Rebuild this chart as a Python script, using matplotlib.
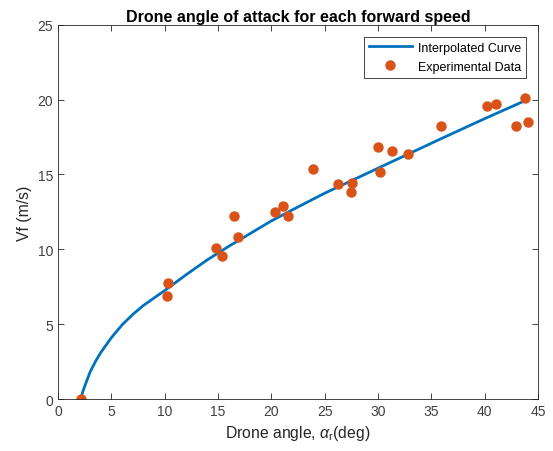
import matplotlib
matplotlib.use("Agg")
import matplotlib.pyplot as plt
import numpy as np

plt.rcParams['font.family'] = ['Liberation Sans', 'DejaVu Sans']
plt.rcParams['mathtext.fontset'] = 'custom'
plt.rcParams['mathtext.rm'] = 'Liberation Sans'
plt.rcParams['mathtext.it'] = 'Liberation Sans:italic'

alpha_exp = [2.15, 10.3, 10.25, 14.8, 15.4, 16.45, 16.85, 20.3, 21.05, 21.6, 23.9,
             26.2, 27.6, 27.45, 30.0, 30.15, 31.3, 32.85, 35.9, 40.2, 41.1, 42.9,
             43.8, 44.1]
vf_exp = [0.0, 7.75, 6.88, 10.12, 9.53, 12.2, 10.85, 12.48, 12.87, 12.2, 15.37,
          14.33, 14.4, 13.8, 16.85, 15.15, 16.55, 16.37, 18.22, 19.56, 19.69, 18.22,
          20.13, 18.53]

# interpolated curve
alpha_fit = [2.15, 2.3, 2.6, 3.0, 3.5, 4.0, 5.0, 6.0, 7.0, 8.0, 9.5, 10.0, 12.0,
             14.0, 16.0, 18.0, 20.0, 22.0, 25.0, 28.0, 30.0, 33.0, 36.0, 40.0, 44.0]
vf_fit = [0.0, 0.45, 1.05, 1.8, 2.5, 3.1, 4.1, 4.95, 5.65, 6.25, 7.0, 7.25, 8.3,
          9.3, 10.2, 11.05, 11.9, 12.65, 13.75, 14.75, 15.42, 16.42, 17.42, 18.73, 20.0]

fig = plt.figure(figsize=(5.53, 4.52), dpi=100)
ax = fig.add_axes([0.105, 0.115, 0.868, 0.828])

ax.plot(alpha_fit, vf_fit, color='#0072BD', lw=2, label='Interpolated Curve',
        solid_joinstyle='round')
ax.plot(alpha_exp, vf_exp, 'o', color='#D95319', ms=6.5, mec='#D95319',
        label='Experimental Data')

ax.set_xlim(0, 45)
ax.set_ylim(0, 25)
ax.set_xticks(np.arange(0, 46, 5))
ax.set_yticks(np.arange(0, 26, 5))
ax.tick_params(direction='in', top=True, right=True, length=4, width=0.6,
               labelsize=10, colors='#262626', labelcolor='#404040')
for s in ax.spines.values():
    s.set_color('#262626')
    s.set_linewidth(0.6)

ax.set_title('Drone angle of attack for each forward speed', fontsize=11.5,
             fontweight='bold', pad=3)
ax.set_xlabel(r'Drone angle, $\alpha_{\rm r}$(deg)', fontsize=11.3, color='#262626')
ax.set_ylabel('Vf (m/s)', fontsize=11.3, color='#262626')

leg = ax.legend(loc='upper right', fontsize=9, fancybox=False, framealpha=1,
                edgecolor='#262626', handlelength=3.4, handletextpad=0.5,
                labelspacing=0.55, borderaxespad=0.95)
leg.get_frame().set_linewidth(0.6)

fig.savefig('out.png', dpi=100)
